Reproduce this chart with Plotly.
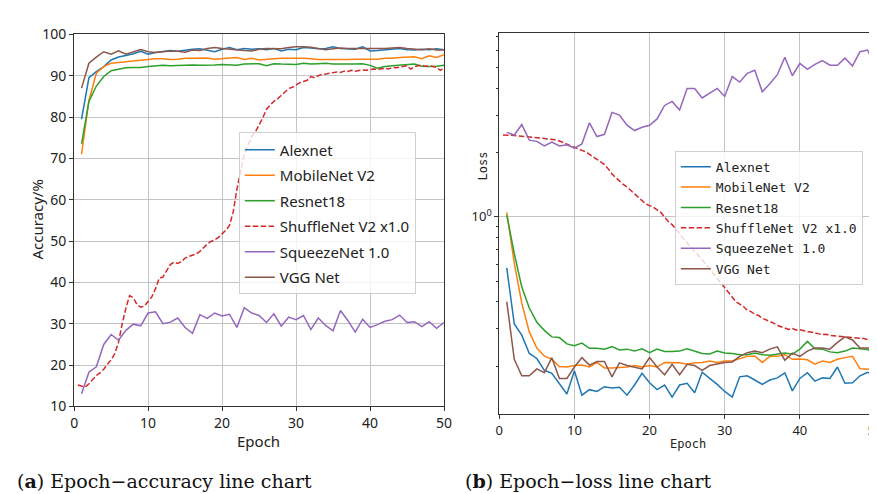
import plotly.graph_objects as go

epochs = list(range(1, 51))
shuffle_x = [i * 0.5 for i in range(1, 101)]

names = ["Alexnet", "MobileNet V2", "Resnet18", "ShuffleNet V2 x1.0", "SqueezeNet 1.0", "VGG Net"]
colors = ["#1f77b4", "#ff7f0e", "#2ca02c", "#d62728", "#9467bd", "#8c564b"]

acc_alexnet = [79.5, 89.5, 91.0, 92.2, 93.8, 94.5, 94.9, 95.3, 95.9, 95.2,
               95.6, 95.9, 96.1, 95.9, 96.2, 96.4, 96.5, 96.2, 95.8, 96.4,
               96.8, 96.3, 96.6, 96.4, 96.5, 96.3, 96.6, 96.0, 96.4, 96.3,
               96.8, 96.7, 96.5, 96.6, 97.0, 96.6, 96.5, 96.4, 97.0, 96.0,
               96.1, 96.3, 96.4, 96.6, 96.3, 96.2, 96.4, 96.3, 96.5, 96.3]
acc_mobilenet = [71.0, 84.0, 90.6, 92.2, 93.0, 93.2, 93.4, 93.5, 93.8, 94.0,
                 94.1, 94.1, 93.9, 94.0, 94.2, 94.2, 94.3, 94.3, 94.0, 94.1,
                 94.2, 94.4, 93.9, 94.2, 93.8, 94.0, 94.1, 94.2, 94.2, 94.3,
                 94.2, 94.1, 93.9, 93.9, 93.9, 93.8, 93.9, 94.0, 94.0, 94.0,
                 94.0, 94.2, 94.2, 94.4, 94.5, 94.6, 94.1, 94.8, 94.4, 95.1]
acc_resnet = [73.5, 83.8, 87.5, 89.8, 91.2, 91.6, 91.9, 92.0, 92.0, 92.2,
              92.4, 92.5, 92.4, 92.5, 92.5, 92.6, 92.5, 92.5, 92.6, 92.7,
              92.6, 92.5, 92.8, 92.8, 92.9, 92.4, 92.9, 92.8, 92.8, 92.7,
              93.0, 92.8, 92.9, 93.0, 92.8, 92.8, 92.7, 92.8, 92.9, 92.5,
              91.8, 92.2, 92.4, 92.5, 92.6, 92.8, 92.3, 92.2, 92.3, 92.5]
acc_shuffle = [15.2, 15.0, 14.7, 15.5, 16.6, 17.5, 18.1, 19.0, 20.2, 21.3,
               22.8, 25.5, 30.0, 33.8, 36.8, 36.3, 34.6, 34.0, 34.3, 35.3,
               36.5, 38.5, 41.0, 41.3, 42.8, 44.3, 44.9, 44.6, 45.0, 45.9,
               46.3, 46.6, 46.9, 47.5, 48.4, 49.3, 49.9, 50.3, 50.9, 51.8,
               52.6, 53.8, 57.0, 62.5, 67.0, 71.0, 73.2, 75.3, 76.4, 78.0,
               79.8, 81.9, 82.9, 83.8, 84.4, 85.2, 86.1, 86.9, 87.2, 87.8,
               88.3, 88.6, 88.9, 89.8, 89.5, 90.0, 90.3, 90.4, 90.6, 90.7,
               90.9, 90.8, 91.1, 91.0, 91.3, 91.1, 91.2, 91.4, 91.3, 91.5,
               91.6, 91.5, 91.7, 91.8, 91.6, 92.0, 91.9, 92.1, 92.3, 92.4,
               91.6, 92.2, 92.4, 92.5, 92.3, 92.4, 92.2, 92.0, 91.3, 91.9]
acc_squeeze = [13.1, 18.3, 19.6, 25.0, 27.4, 26.0, 28.4, 29.9, 29.5, 32.6,
               32.9, 30.0, 30.4, 31.4, 29.1, 27.7, 32.2, 31.3, 32.6, 31.9,
               32.3, 29.1, 33.9, 32.6, 32.0, 30.3, 32.4, 29.4, 31.6, 31.0,
               32.0, 28.6, 31.4, 29.6, 28.3, 33.2, 30.8, 28.0, 31.1, 29.1,
               29.8, 30.6, 31.0, 32.1, 30.3, 30.5, 29.3, 30.5, 28.9, 30.3]
acc_vgg = [87.0, 93.0, 94.5, 95.8, 95.2, 96.0, 95.2, 95.7, 96.3, 95.8,
           95.6, 95.8, 96.0, 95.9, 95.7, 96.2, 96.1, 96.6, 96.8, 96.6,
           96.4, 96.3, 96.1, 96.0, 96.4, 96.6, 96.6, 96.5, 96.8, 97.0,
           97.0, 96.9, 96.6, 96.3, 96.5, 96.7, 96.6, 96.6, 96.5, 96.6,
           96.5, 96.6, 96.7, 96.8, 96.6, 96.5, 96.3, 96.5, 96.2, 96.2]

loss_alexnet = [0.577, 0.315, 0.279, 0.229, 0.217, 0.191, 0.185, 0.166, 0.148, 0.190,
                0.146, 0.155, 0.152, 0.160, 0.158, 0.159, 0.146, 0.163, 0.185, 0.167,
                0.155, 0.163, 0.143, 0.163, 0.166, 0.150, 0.187, 0.175, 0.164, 0.152,
                0.143, 0.178, 0.180, 0.172, 0.164, 0.172, 0.176, 0.186, 0.153, 0.175,
                0.186, 0.170, 0.176, 0.175, 0.198, 0.166, 0.167, 0.180, 0.187, 0.180]
loss_mobilenet = [1.05, 0.608, 0.394, 0.289, 0.243, 0.223, 0.215, 0.199, 0.198, 0.201,
                  0.202, 0.198, 0.208, 0.196, 0.196, 0.197, 0.198, 0.201, 0.198, 0.201,
                  0.198, 0.208, 0.208, 0.207, 0.204, 0.207, 0.208, 0.211, 0.208, 0.211,
                  0.211, 0.216, 0.222, 0.223, 0.208, 0.222, 0.222, 0.226, 0.215, 0.216,
                  0.214, 0.204, 0.211, 0.208, 0.215, 0.219, 0.222, 0.194, 0.194, 0.193]
loss_resnet = [1.02, 0.674, 0.469, 0.374, 0.321, 0.294, 0.274, 0.272, 0.254, 0.249,
               0.256, 0.242, 0.242, 0.240, 0.247, 0.238, 0.240, 0.235, 0.241, 0.231,
               0.240, 0.234, 0.234, 0.235, 0.241, 0.234, 0.229, 0.228, 0.235, 0.230,
               0.229, 0.226, 0.226, 0.230, 0.226, 0.225, 0.228, 0.230, 0.227, 0.240,
               0.261, 0.241, 0.240, 0.233, 0.231, 0.235, 0.243, 0.240, 0.239, 0.230]
loss_shuffle = [2.42, 2.42, 2.41, 2.41, 2.40, 2.39, 2.38, 2.38, 2.37, 2.36,
                2.35, 2.34, 2.33, 2.32, 2.30, 2.27, 2.23, 2.19, 2.15, 2.11,
                2.08, 2.05, 2.02, 1.96, 1.91, 1.86, 1.81, 1.76, 1.68, 1.59,
                1.53, 1.47, 1.42, 1.38, 1.33, 1.29, 1.24, 1.20, 1.15, 1.13,
                1.11, 1.08, 1.05, 1.00, 0.95, 0.92, 0.88, 0.83, 0.79, 0.76,
                0.72, 0.69, 0.655, 0.63, 0.60, 0.57, 0.545, 0.515, 0.49, 0.465,
                0.44, 0.42, 0.40, 0.39, 0.38, 0.365, 0.36, 0.35, 0.345, 0.335,
                0.33, 0.325, 0.318, 0.31, 0.306, 0.302, 0.297, 0.30, 0.295, 0.296,
                0.292, 0.29, 0.289, 0.285, 0.283, 0.281, 0.282, 0.278, 0.277, 0.276,
                0.274, 0.275, 0.273, 0.272, 0.271, 0.270, 0.269, 0.266, 0.26, 0.268]
loss_squeeze = [2.49, 2.42, 2.71, 2.29, 2.26, 2.15, 2.24, 2.15, 2.18, 2.10,
                2.20, 2.76, 2.38, 2.44, 3.09, 3.00, 2.69, 2.54, 2.63, 2.69,
                2.88, 3.33, 3.48, 3.17, 4.00, 4.00, 3.61, 3.80, 4.00, 3.67,
                4.55, 4.29, 4.71, 4.87, 3.86, 4.21, 4.64, 5.60, 4.59, 5.24,
                4.92, 5.19, 5.41, 5.14, 5.14, 5.55, 5.10, 5.95, 6.06, 5.19]
loss_vgg = [0.401, 0.215, 0.180, 0.180, 0.194, 0.186, 0.219, 0.175, 0.175, 0.198,
            0.219, 0.202, 0.210, 0.210, 0.178, 0.207, 0.201, 0.198, 0.194, 0.219,
            0.198, 0.182, 0.204, 0.182, 0.204, 0.201, 0.191, 0.201, 0.204, 0.208,
            0.209, 0.222, 0.231, 0.235, 0.231, 0.240, 0.246, 0.213, 0.230, 0.222,
            0.235, 0.243, 0.243, 0.240, 0.258, 0.274, 0.265, 0.243, 0.243, 0.243]

acc_series = [acc_alexnet, acc_mobilenet, acc_resnet, acc_shuffle, acc_squeeze, acc_vgg]
loss_series = [loss_alexnet, loss_mobilenet, loss_resnet, loss_shuffle, loss_squeeze, loss_vgg]

acc_ticks = [10, 20, 30, 40, 50, 60, 70, 80, 90, 100]
epoch_ticks = [0, 10, 20, 30, 40, 50]
loss_minor = [0.2, 0.3, 0.4, 0.5, 0.6, 0.7, 0.8, 0.9, 2, 3, 4, 5, 6, 7]

W, H = 877, 494
fig = go.Figure()

for i, (nm, col) in enumerate(zip(names, colors)):
    xs = shuffle_x if i == 3 else epochs
    dash = "5.5px,2.4px" if i == 3 else "solid"
    fig.add_trace(go.Scatter(x=xs, y=acc_series[i], mode="lines", name=nm,
                             line=dict(color=col, width=1.5, dash=dash),
                             xaxis="x", yaxis="y", legend="legend",
                             legendgroup="a%d" % i))
for i, (nm, col) in enumerate(zip(names, colors)):
    xs = shuffle_x if i == 3 else epochs
    dash = "5.5px,2.4px" if i == 3 else "solid"
    fig.add_trace(go.Scatter(x=xs, y=loss_series[i], mode="lines", name=nm,
                             line=dict(color=col, width=1.5, dash=dash),
                             xaxis="x2", yaxis="y2", legend="legend2",
                             legendgroup="b%d" % i))

grid = "#c4c4c4"
axline = "#333333"
sans = "Noto Sans, Open Sans, sans-serif"
mono = "DejaVu Sans Mono, monospace"

common = dict(showline=True, mirror=True, linecolor=axline, linewidth=1,
              ticks="outside", ticklen=4, tickcolor=axline, gridcolor=grid,
              gridwidth=0.8, zeroline=False, showgrid=True)

fig.update_layout(
    width=W, height=H, margin=dict(l=0, r=0, t=0, b=0),
    paper_bgcolor="white", plot_bgcolor="white",
    xaxis=dict(domain=[63 / W, 438 / W], anchor="y", range=[0, 50],
               tickmode="array", tickvals=epoch_ticks,
               tickfont=dict(family=sans, size=14, color="#222"), **common),
    yaxis=dict(domain=[1 - 404 / H, 1 - 17 / H], anchor="x", range=[10, 100],
               tickmode="array", tickvals=acc_ticks,
               tickfont=dict(family=sans, size=14, color="#222"), **common),
    xaxis2=dict(domain=[494 / W, 875 / W], anchor="y2", range=[0, 50],
                tickmode="array", tickvals=epoch_ticks,
                tickfont=dict(family=sans, size=13, color="#222"), **common),
    yaxis2=dict(domain=[1 - 412 / H, 1 - 16 / H], anchor="x2", type="log",
                range=[-0.9245, 0.8603], tickmode="array", tickvals=[1],
                ticktext=["10<sup>0</sup>"],
                tickfont=dict(family=sans, size=13, color="#222"),
                minor=dict(tickmode="array", tickvals=loss_minor, ticks="outside",
                           ticklen=2, tickcolor=axline, showgrid=False),
                **common),
    legend=dict(x=230 / W, y=1 - 119 / H, xanchor="left", yanchor="top",
                bgcolor="rgba(255,255,255,0.8)", bordercolor="#d0d0d0", borderwidth=1,
                font=dict(family=sans, size=15, color="#222"), tracegroupgap=3),
    legend2=dict(x=672 / W, y=1 - 138 / H, xanchor="left", yanchor="top",
                 bgcolor="rgba(255,255,255,0.8)", bordercolor="#d0d0d0", borderwidth=1,
                 font=dict(family=mono, size=13, color="#222"), tracegroupgap=0.5),
)

ann = []
ann.append(dict(text="Accuracy/%", x=25 / W, y=1 - 210 / H, textangle=-90,
                font=dict(family=sans, size=15, color="#222")))
ann.append(dict(text="Epoch", x=250 / W, y=1 - 440 / H,
                font=dict(family=sans, size=15, color="#222")))
ann.append(dict(text="Loss", x=478 / W, y=1 - 154 / H, textangle=-90,
                font=dict(family=mono, size=12, color="#222")))
ann.append(dict(text="Epoch", x=685 / W, y=1 - 443 / H,
                font=dict(family=mono, size=12, color="#222")))
ann.append(dict(text="(<b>a</b>) Epoch\u2212accuracy line chart", x=3 / W, y=1 - 481 / H,
                xanchor="left", font=dict(family="DejaVu Serif, serif", size=19, color="#111")))
ann.append(dict(text="(<b>b</b>) Epoch\u2212loss line chart", x=457 / W, y=1 - 481 / H,
                xanchor="left", font=dict(family="DejaVu Serif, serif", size=19, color="#111")))
for a in ann:
    a.setdefault("xanchor", "center")
    a.update(xref="paper", yref="paper", yanchor="middle", showarrow=False)
fig.update_layout(annotations=ann)

fig.write_html("out.html")
